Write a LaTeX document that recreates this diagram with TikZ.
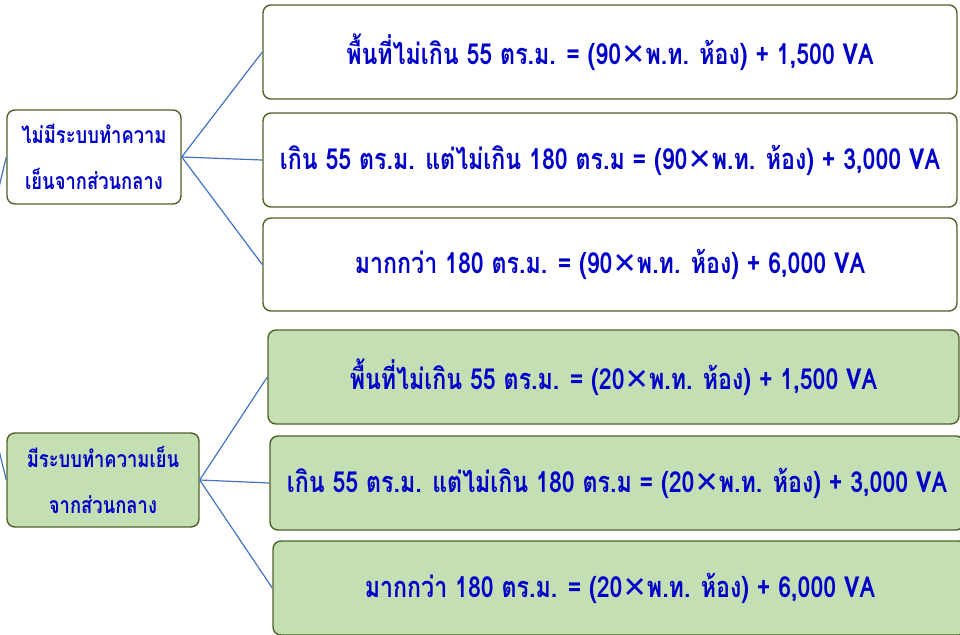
\documentclass[tikz,border=0pt]{standalone}
\usepackage{fontspec}
\newfontfamily\thaifont[Script=Thai,FakeStretch=0.8]{Loma}
\newfontfamily\symfont{DejaVu Sans}
\newcommand{\tms}{{\symfont\bfseries ✕}}
\definecolor{bordergreen}{HTML}{4F6228}
\definecolor{fillgreen}{HTML}{C5DFB4}
\definecolor{linkblue}{HTML}{4472C4}
\definecolor{textblue}{HTML}{0000C8}
\tikzset{
  box/.style={draw=bordergreen, line width=1.4pt, rounded corners=8pt, fill=white,
    text=textblue, font=\thaifont\bfseries, align=center, inner sep=0pt},
  bigbox/.style={box, minimum width=694pt, minimum height=94pt, font=\thaifont\bfseries\fontsize{29}{34}\selectfont},
  leftbox/.style={box, minimum height=94pt, font=\thaifont\bfseries\fontsize{23}{42}\selectfont},
  greenfill/.style={fill=fillgreen},
  link/.style={draw=linkblue, line width=1.2pt}
}
\begin{document}
\begin{tikzpicture}[x=1pt,y=-1pt]
\useasboundingbox (0,0) rectangle (960,634);
\clip (0,0) rectangle (960,634);
\coordinate (root) at (-33,320);
\node[leftbox, minimum width=174pt] (L1) at (94,157) {ไม่มีระบบทำความ\\[4pt]เย็นจากส่วนกลาง};
\node[leftbox, greenfill, minimum width=192pt] (L2) at (103,480) {มีระบบทำความเย็น\\[4pt]จากส่วนกลาง};
\node[bigbox] (R1) at (610,52) {พื้นที่ไม่เกิน 55 ตร.ม. = (90\tms พ.ท. ห้อง) + 1,500 VA};
\node[bigbox] (R2) at (610,160) {เกิน 55 ตร.ม. แต่ไม่เกิน 180 ตร.ม = (90\tms พ.ท. ห้อง) + 3,000 VA};
\node[bigbox, minimum height=93pt] (R3) at (610,264.5) {มากกว่า 180 ตร.ม. = (90\tms พ.ท. ห้อง) + 6,000 VA};
\node[bigbox, greenfill, minimum width=691pt] (G1) at (613.5,377) {พื้นที่ไม่เกิน 55 ตร.ม. = (20\tms พ.ท. ห้อง) + 1,500 VA};
\node[bigbox, greenfill] (G2) at (617,483) {เกิน 55 ตร.ม. แต่ไม่เกิน 180 ตร.ม = (20\tms พ.ท. ห้อง) + 3,000 VA};
\node[bigbox, greenfill] (G3) at (620,588) {มากกว่า 180 ตร.ม. = (20\tms พ.ท. ห้อง) + 6,000 VA};
\draw[link] (root) -- (L1.west);
\draw[link] (root) -- (L2.west);
\draw[link] (L1.east) -- (R1.west);
\draw[link] (L1.east) -- (R2.west);
\draw[link] (L1.east) -- (R3.west);
\draw[link] (L2.east) -- (G1.west);
\draw[link] (L2.east) -- (G2.west);
\draw[link] (L2.east) -- (G3.west);
\end{tikzpicture}
\end{document}
